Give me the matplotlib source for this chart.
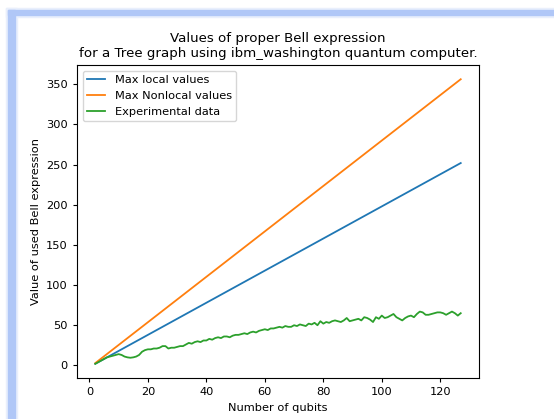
import numpy as np
import matplotlib.pyplot as plt
from matplotlib.patches import Rectangle

qubits = list(range(2, 128))
max_local = [2 * n - 2 for n in qubits]
max_nonlocal = [2 * np.sqrt(2) * (n - 1) for n in qubits]
experimental = [
    2, 4, 6, 8, 10, 11, 12, 13, 14, 13, 11, 10, 9.5, 10, 11, 13, 17, 19, 20,
    20, 21, 21, 22, 24, 24, 21, 22, 22, 23, 24, 24, 26, 28, 27, 29, 30, 29,
    31, 31, 33, 32, 34, 35, 34, 36, 36, 35, 37, 38, 38, 39, 40, 39, 41, 42,
    41, 43, 44, 45, 44, 46, 46, 47, 48, 47, 49, 48, 48, 50, 49, 51, 50, 49,
    52, 51, 53, 50, 55, 52, 54, 53, 55, 56, 55, 54, 56, 59, 55, 56, 57, 58,
    56, 60, 59, 57, 54, 60, 58, 62, 59, 60, 62, 64, 60, 58, 56, 59, 61, 62,
    60, 64, 67, 66, 63, 63, 64, 65, 66, 66, 65, 63, 65, 67, 65, 62, 65,
]

plt.rcParams['font.size'] = 8.2

fig = plt.figure(figsize=(5.54, 4.19), dpi=100)
fig.patch.set_facecolor('white')

# soft blue screenshot frame on left and top
fig.patches.append(Rectangle((6 / 554, 0), 11 / 554, 1 - 8 / 419, transform=fig.transFigure,
                             color='#e9effc', zorder=0))
fig.patches.append(Rectangle((6 / 554, 1 - 17 / 419), 1, 9 / 419, transform=fig.transFigure,
                             color='#e9effc', zorder=0))
fig.patches.append(Rectangle((8 / 554, 0), 7 / 554, 1 - 10 / 419, transform=fig.transFigure,
                             color='#b0c7f7', zorder=1))
fig.patches.append(Rectangle((8 / 554, 1 - 15 / 419), 1, 5 / 419, transform=fig.transFigure,
                             color='#b0c7f7', zorder=1))

ax = fig.add_axes([77 / 554, 41 / 419, 402 / 554, 313 / 419])
ax.plot(qubits, max_local, color='#1f77b4', lw=1.3, label='Max local values')
ax.plot(qubits, max_nonlocal, color='#ff7f0e', lw=1.3, label='Max Nonlocal values')
ax.plot(qubits, experimental, color='#2ca02c', lw=1.3, label='Experimental data')

ax.set_title('Values of proper Bell expression\nfor a Tree graph using ibm_washington quantum computer.',
             fontsize=9.6)
ax.set_xlabel('Number of qubits')
ax.set_ylabel('Value of used Bell expression')
ax.set_xticks([0, 20, 40, 60, 80, 100, 120])
ax.set_yticks([0, 50, 100, 150, 200, 250, 300, 350])
for s in ax.spines.values():
    s.set_linewidth(0.8)
ax.tick_params(width=0.8, length=3)
ax.legend(loc='upper left', handlelength=1.6)

fig.savefig('out.png', dpi=100)
